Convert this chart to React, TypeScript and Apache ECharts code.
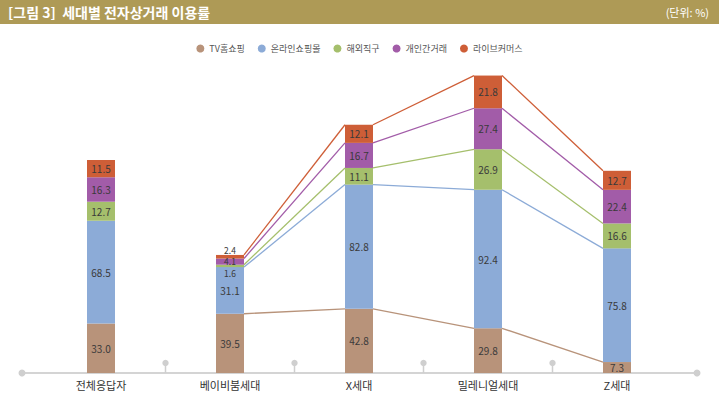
import React, { useEffect, useRef } from "react";
import * as echarts from "echarts";

const categories = ["전체응답자", "베이비붐세대", "X세대", "밀레니얼세대", "Z세대"];
const seriesNames = ["TV홈쇼핑", "온라인쇼핑몰", "해외직구", "개인간거래", "라이브커머스"];
const tvShopping = [33.0, 39.5, 42.8, 29.8, 7.3];
const onlineMall = [68.5, 31.1, 82.8, 92.4, 75.8];
const overseas = [12.7, 1.6, 11.1, 26.9, 16.6];
const personal = [16.3, 4.1, 16.7, 27.4, 22.4];
const liveCommerce = [11.5, 2.4, 12.1, 21.8, 12.7];
const colors = ["#B8937A", "#8CABD7", "#A5BF6C", "#A25CA8", "#CE5E37"];

const BAR_W = 28;
const FONT = "'Liberation Sans Narrow', 'Noto Sans CJK KR', sans-serif";

export default function App() {
  const ref = useRef<HTMLDivElement>(null);
  useEffect(() => {
    document.body.style.margin = "0";
    const chart = echarts.init(ref.current!, null, { renderer: "svg" });
    const all = [tvShopping, onlineMall, overseas, personal, liveCommerce];
    const cum: number[][] = [];
    all.forEach((arr, s) => {
      cum.push(arr.map((v, i) => (s === 0 ? v : cum[s - 1][i] + v)));
    });

    const barSeries = all.map((arr, s) => ({
      name: seriesNames[s],
      type: "bar",
      stack: "total",
      barWidth: BAR_W,
      itemStyle: { color: colors[s] },
      data: arr.map((v, i) => {
        const item: any = { value: v };
        if (i === 1 && s === 2) item.label = { offset: [0, 7], fontSize: 8.5, lineHeight: 9 };
        if (i === 1 && s === 3) item.label = { offset: [0, -1], fontSize: 8.5, lineHeight: 9 };
        if (i === 1 && s === 4) item.label = { offset: [0, -7], fontSize: 8.5, lineHeight: 9 };
        return item;
      }),
      label: {
        show: true,
        position: "inside",
        color: "#3a3a3a",
        fontSize: 10,
        fontFamily: FONT,
        formatter: (p: any) => Number(p.value).toFixed(1),
      },
    }));

    const lineSeries = all.map((_, s) => ({
      name: "conn" + s,
      type: "custom",
      silent: true,
      z: 1,
      data: [1, 2, 3].map((i) => [i, cum[s][i], cum[s][i + 1]]),
      renderItem: (params: any, api: any) => {
        const x0 = api.value(0);
        const p0 = api.coord([x0, api.value(1)]);
        const p1 = api.coord([x0 + 1, api.value(2)]);
        return {
          type: "line",
          shape: { x1: p0[0] + BAR_W / 2, y1: p0[1], x2: p1[0] - BAR_W / 2, y2: p1[1] },
          style: { stroke: colors[s], lineWidth: 1.3 },
        };
      },
    }));

    const tickSeries = {
      name: "ticks",
      type: "custom",
      silent: true,
      data: [0, 1, 2, 3].map((i) => [i, 0]),
      renderItem: (params: any, api: any) => {
        const i = api.value(0);
        const a = api.coord([i, 0]);
        const b = api.coord([i + 1, 0]);
        const x = (a[0] + b[0]) / 2;
        const y = a[1];
        return {
          type: "group",
          children: [
            { type: "line", shape: { x1: x, y1: y, x2: x, y2: y - 10 }, style: { stroke: "#cfcfcf", lineWidth: 1.5 } },
            { type: "circle", shape: { cx: x, cy: y - 10, r: 3.2 }, style: { fill: "#cfcfcf" } },
          ],
        };
      },
    };

    chart.setOption({
      animation: false,
      backgroundColor: "#ffffff",
      grid: { left: 36.5, right: 37.5, top: 58, bottom: 27 },
      legend: {
        data: seriesNames,
        top: 39,
        left: "center",
        icon: "circle",
        itemWidth: 8,
        itemHeight: 8,
        itemGap: 13,
        textStyle: { fontSize: 9, color: "#555", fontFamily: FONT },
      },
      xAxis: {
        type: "category",
        data: categories,
        axisLine: { show: false },
        axisTick: { show: false },
        axisLabel: { fontSize: 11, color: "#333", margin: 6, fontFamily: FONT },
      },
      yAxis: {
        type: "value",
        min: 0,
        max: 210,
        show: false,
        splitLine: { show: false },
      },
      graphic: [
        { type: "rect", shape: { x: 0, y: 0, width: 719, height: 24 }, style: { fill: "#AE9A56" } },
        {
          type: "text",
          x: 8,
          y: 12,
          style: {
            text: "[그림 3]  세대별 전자상거래 이용률",
            fill: "#ffffff",
            fontSize: 14,
            fontWeight: "bold",
            fontFamily: "'Noto Sans CJK KR', sans-serif",
            verticalAlign: "middle",
          },
        },
        {
          type: "text",
          x: 709,
          y: 12,
          style: {
            text: "(단위: %)",
            fill: "#ffffff",
            fontSize: 11,
            fontFamily: "'Noto Sans CJK KR', sans-serif",
            align: "right",
            verticalAlign: "middle",
          },
        },
        { type: "line", z: -1, shape: { x1: 22, y1: 373, x2: 697, y2: 373 }, style: { stroke: "#d4d4d4", lineWidth: 2 } },
        { type: "circle", shape: { cx: 22, cy: 373, r: 3.5 }, style: { fill: "#cfcfcf" } },
        { type: "circle", shape: { cx: 697, cy: 373, r: 3.5 }, style: { fill: "#cfcfcf" } },
      ],
      series: [...lineSeries, tickSeries, ...barSeries],
    });
    return () => chart.dispose();
  }, []);
  return <div ref={ref} style={{ position: "absolute", left: 0, top: 0, width: 719, height: 400 }} />;
}
